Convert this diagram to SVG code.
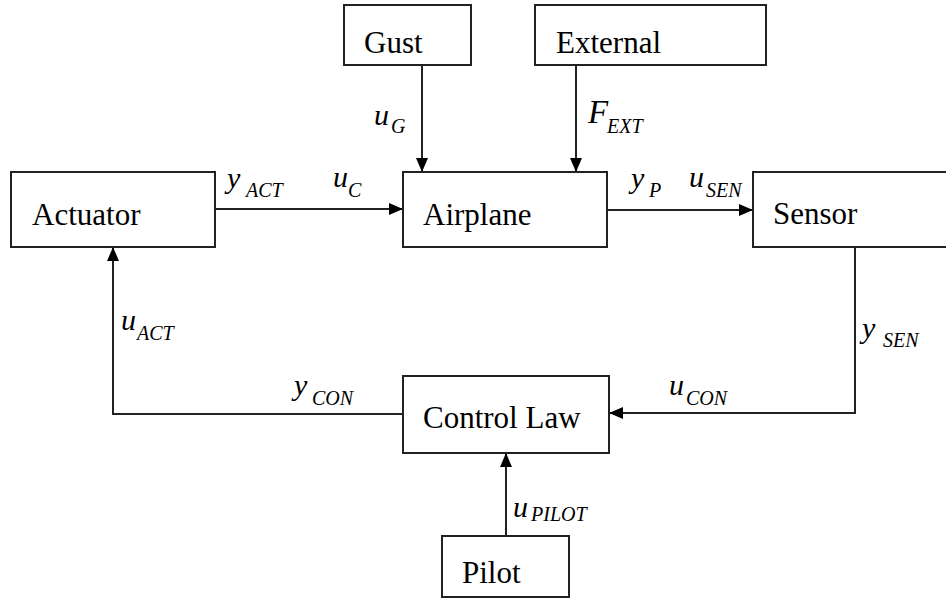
<svg xmlns="http://www.w3.org/2000/svg" width="946" height="601" viewBox="0 0 946 601">
<style>
.box{fill:#fff;stroke:#222;stroke-width:2}
.lbl{font-family:'Liberation Serif','Times New Roman',Tinos,'DejaVu Serif',serif;font-size:31px;fill:#000}
.m{font-family:'Liberation Serif','Times New Roman',Tinos,'DejaVu Serif',serif;font-style:italic;font-size:30px;fill:#000}
.s{font-family:'Liberation Serif','Times New Roman',Tinos,'DejaVu Serif',serif;font-style:italic;font-size:20px;fill:#000}
.c{fill:none;stroke:#222;stroke-width:2;marker-end:url(#ah)}
</style>
<defs>
<marker id="ah" markerUnits="userSpaceOnUse" markerWidth="14" markerHeight="12" refX="14" refY="6" orient="auto">
<path d="M0,0 L14,6 L0,12 z" fill="#000"/>
</marker>
</defs>
<rect width="946" height="601" fill="#fff"/>
<g id="connectors">
<path class="c" d="M215,209 H403"/>
<path class="c" d="M607,210 H753"/>
<path class="c" d="M422,65 V172"/>
<path class="c" d="M576,65 V172"/>
<path class="c" d="M855,247 V413 H609"/>
<path class="c" d="M403,414 H113 V247"/>
<path class="c" d="M506,536 V453"/>
</g>
<g id="labels">
<text class="m" x="227" y="188">y</text><text class="s" x="246" y="197">ACT</text>
<text class="m" x="333" y="187">u</text><text class="s" x="348" y="197">C</text>
<text class="m" x="374" y="125">u</text><text class="s" x="391" y="133">G</text>
<text class="m" x="588" y="123" style="font-size:33px">F</text><text class="s" x="607" y="133">EXT</text>
<text class="m" x="631" y="188">y</text><text class="s" x="649" y="197">P</text>
<text class="m" x="689" y="187">u</text><text class="s" x="706" y="197">SEN</text>
<text class="m" x="121" y="330">u</text><text class="s" x="137" y="340">ACT</text>
<text class="m" x="862" y="338">y</text><text class="s" x="883" y="347">SEN</text>
<text class="m" x="294" y="395">y</text><text class="s" x="312" y="405">CON</text>
<text class="m" x="669" y="395">u</text><text class="s" x="686" y="405">CON</text>
<text class="m" x="513" y="517">u</text><text class="s" x="531" y="521">PILOT</text>
</g>
<g id="actuator"><rect class="box" x="11" y="172" width="204" height="75"/><text class="lbl" x="32" y="225">Actuator</text></g>
<g id="airplane"><rect class="box" x="403" y="172" width="204" height="75"/><text class="lbl" x="423" y="225">Airplane</text></g>
<g id="gust"><rect class="box" x="344" y="5" width="127" height="60"/><text class="lbl" x="364" y="53">Gust</text></g>
<g id="external"><rect class="box" x="535" y="5" width="231" height="60"/><text class="lbl" x="556" y="53">External</text></g>
<g id="sensor"><rect class="box" x="753" y="172" width="200" height="75"/><text class="lbl" x="773" y="224">Sensor</text></g>
<g id="controllaw"><rect class="box" x="403" y="376" width="206" height="77"/><text class="lbl" x="423" y="428">Control Law</text></g>
<g id="pilot"><rect class="box" x="442" y="536" width="127" height="61"/><text class="lbl" x="462" y="583">Pilot</text></g>
</svg>
